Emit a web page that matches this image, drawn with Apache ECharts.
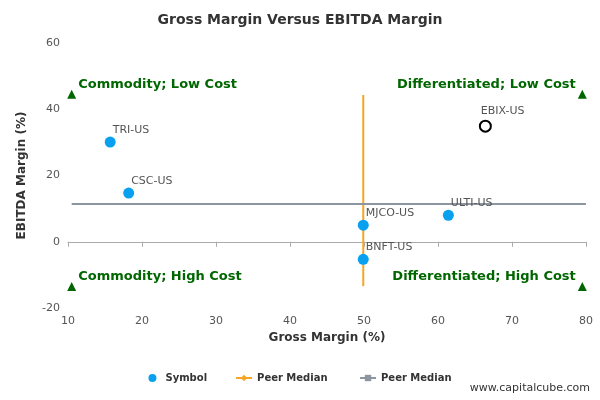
<!DOCTYPE html>
<html><head><meta charset="utf-8">
<script src="https://cdn.jsdelivr.net/npm/echarts@6/dist/echarts.min.js"></script>
<style>body{margin:0}#main{width:600px;height:400px}</style>
</head><body><div id="main"></div>
<script>
var symbols = ['TRI-US', 'CSC-US', 'MJCO-US', 'BNFT-US', 'ULTI-US'];
var grossMargin = [15.7, 18.2, 49.9, 49.9, 61.4];
var ebitdaMargin = [30.1, 14.7, 5.0, -5.3, 8.0];
var focus = { name: 'EBIX-US', x: 66.4, y: 34.9 };
var medianGross = 49.9;
var medianEbitda = 11.4;
var quadrants = [
    { text: 'Commodity; Low Cost', x: 10.5, y: 44.5, side: 'right' },
    { text: 'Differentiated; Low Cost', x: 79.5, y: 44.5, side: 'left' },
    { text: 'Commodity; High Cost', x: 10.5, y: -13.5, side: 'right' },
    { text: 'Differentiated; High Cost', x: 79.5, y: -13.5, side: 'left' }
];

var myChart = echarts.init(document.getElementById('main'));
var pts = [];
for (var i = 0; i < symbols.length; i++) {
    pts.push({ value: [grossMargin[i], ebitdaMargin[i]], name: symbols[i] });
}
var font = 'DejaVu Sans';
myChart.setOption({
    textStyle: { fontFamily: font },
    title: { text: 'Gross Margin Versus EBITDA Margin', left: 'center', top: 8,
        textStyle: { fontSize: 14, fontWeight: 'bold', color: '#333', fontFamily: font } },
    grid: { left: 68, right: 14, top: 43, bottom: 92 },
    xAxis: { type: 'value', min: 10, max: 80, interval: 10, name: 'Gross Margin (%)',
        nameLocation: 'middle', nameGap: 24,
        nameTextStyle: { fontWeight: 'bold', fontSize: 12, color: '#333' },
        axisLine: { lineStyle: { color: '#aaa' } }, axisTick: { show: true },
        splitLine: { show: false }, axisLabel: { color: '#555', fontSize: 11 } },
    yAxis: { type: 'value', min: -20, max: 60, interval: 20, name: 'EBITDA Margin (%)',
        nameLocation: 'middle', nameGap: 40,
        nameTextStyle: { fontWeight: 'bold', fontSize: 12, color: '#333' },
        axisLine: { show: false }, axisTick: { show: false },
        splitLine: { show: false }, axisLabel: { color: '#555', fontSize: 11 } },
    legend: { bottom: 12, itemGap: 28, itemWidth: 16, itemHeight: 8,
        textStyle: { fontSize: 10, fontWeight: 'bold', color: '#333' },
        data: ['Symbol', 'Peer Median ', 'Peer Median'] },
    graphic: [{ type: 'text', right: 10, bottom: 6,
        style: { text: 'www.capitalcube.com', fontSize: 11, fill: '#333', fontFamily: font } }],
    series: [
        { name: 'Symbol', type: 'scatter', data: pts, symbolSize: 11, itemStyle: { color: '#0aa0f0', opacity: 1 },
          label: { show: true, formatter: '{b}', position: [8, -12], color: '#555', fontSize: 11 }, z: 5 },
        { name: 'EBIX', type: 'scatter', data: [{ value: [focus.x, focus.y], name: focus.name }], symbolSize: 11,
          itemStyle: { color: '#fff', borderColor: '#000', borderWidth: 2, opacity: 1 },
          label: { show: true, formatter: '{b}', position: [2, -14], color: '#555', fontSize: 11 }, z: 5 },
        { name: 'Peer Median ', type: 'line', data: [[medianGross, -13.4], [medianGross, 44.3]],
          symbol: 'diamond', showSymbol: false, lineStyle: { color: '#f5a623', width: 2 }, itemStyle: { color: '#f5a623' } },
        { name: 'Peer Median', type: 'line', data: [[10.5, medianEbitda], [80, medianEbitda]],
          symbol: 'rect', showSymbol: false, lineStyle: { color: '#8c95a0', width: 2 }, itemStyle: { color: '#8c95a0' } },
        { name: 'Quadrants', type: 'scatter', symbol: 'triangle', symbolSize: 9,
          itemStyle: { color: '#006600', opacity: 1 },
          data: quadrants.map(function (q) {
              return { value: [q.x, q.y], name: q.text,
                  label: { show: true, formatter: '{b}', position: q.side, distance: 2,
                      offset: [0, -10], color: '#006600', fontWeight: 'bold', fontSize: 13 } };
          }) }
    ]
});
</script></body></html>
